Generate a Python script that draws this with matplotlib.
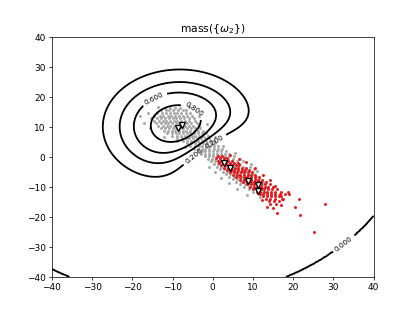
import numpy as np
import matplotlib
matplotlib.use("Agg")
import matplotlib.pyplot as plt

# prototypes (the white triangles) and the class each one supports
proto_x = [-8.7, -7.7, 2.9, 4.2, 8.8, 11.2, 11.2]
proto_y = [9.6, 10.5, -1.9, -3.8, -8.0, -9.5, -11.4]
proto_class = [2, 2, 1, 1, 1, 1, 1]
proto_alpha = [0.75, 0.75, 0.9, 0.9, 0.9, 0.9, 0.9]
proto_gamma = [0.00536, 0.00536, 0.006, 0.006, 0.006, 0.006, 0.006]

levels = [0.0, 0.2, 0.4, 0.6, 0.8]

# gray points, row by row: (y, [x, ...])
gray_rows = [
    (16.3, [-11.8, -10.6, -9.3, -8.2]),
    (15.5, [-12.9, -11.7, -10.9, -9.8, -8.7, -7.5, -6.6]),
    (14.6, [-13.8, -12.6, -11.6, -10.7, -9.6, -8.8, -7.8, -6.7, -5.6]),
    (13.8, [-14.6, -13.2, -12.3, -11.2, -10.3, -9.4, -8.5, -7.4, -6.3, -5.2]),
    (12.9, [-15.3, -13.9, -12.8, -11.9, -10.9, -10.0, -9.1, -8.1, -7.1, -6.0, -4.7]),
    (12.1, [-14.6, -13.3, -12.4, -11.5, -10.6, -9.7, -8.8, -7.8, -6.8, -5.8, -4.3]),
    (11.2, [-17.2, -14.1, -12.9, -11.9, -11.0, -10.1, -9.2, -8.3, -7.3, -6.4, -5.4, -3.9]),
    (10.4, [-13.7, -12.4, -11.4, -10.5, -9.6, -8.7, -7.8, -6.9, -5.9, -4.9, -3.4]),
    (9.6, [-15.6, -12.9, -11.8, -10.9, -10.0, -9.1, -8.2, -7.3, -6.4, -5.4, -4.4, -3.2]),
    (8.7, [-12.2, -11.1, -10.2, -9.3, -8.4, -7.5, -6.6, -5.7, -4.7, -3.7, -2.4]),
    (7.9, [-11.4, -10.2, -9.2, -8.3, -7.4, -6.5, -5.6, -4.6, -3.6, -2.6, -1.6]),
    (7.0, [-10.1, -8.9, -7.9, -7.0, -6.1, -5.2, -4.3, -3.3, -2.3, -1.1]),
    (6.2, [-8.8, -7.6, -6.7, -5.8, -4.9, -4.0, -3.0, -2.0, -0.9]),
    (5.3, [-7.4, -6.3, -5.4, -4.5, -3.6, -2.6, -1.6, -0.6, 0.4]),
    (4.5, [-6.5, -5.3, -4.3, -3.4, -2.5, -1.5, -0.5, 0.6]),
    (3.6, [-5.6, -4.5, -3.5, -2.6, -1.6, -0.7, 0.3, 1.3]),
    (2.8, [-4.6, -3.6, -2.7, -1.8, -0.8, 0.2, 1.2, 2.3]),
    (1.9, [-3.7, -2.7, -1.8, -0.9, 0.1, 1.1, 2.1, 3.2]),
    (1.1, [-2.8, -1.8, -0.9, 0.0, 1.0, 2.0, 3.0, 4.1]),
    (0.2, [-2.0, -1.0, 0.0, 1.0, 2.0, 3.0, 4.1, 5.4]),
    (-0.6, [-1.2, -0.2, 0.8, 1.8, 2.8, 3.9, 5.0]),
    (-1.5, [-0.4, 0.6, 1.6, 2.6, 3.7, 4.8, 6.0, 7.6]),
    (-2.3, [0.3, 1.3, 2.3, 3.4, 4.5, 5.6, 6.8]),
    (-3.2, [1.0, 2.0, 3.1, 4.2, 5.3, 6.4, 7.6, 9.2]),
    (-4.0, [1.7, 2.8, 3.9, 5.0, 6.1, 7.2, 8.4, 10.3]),
    (-4.9, [2.5, 3.6, 4.7, 5.8, 6.9, 8.0, 9.2]),
    (-5.7, [3.3, 4.4, 5.5, 6.6, 7.7, 8.8, 10.0]),
    (-6.6, [4.1, 5.2, 6.3, 7.4, 8.5, 9.6, 10.8]),
    (-7.4, [5.0, 6.1, 7.2, 8.3, 9.4, 10.5, 11.6]),
    (-8.3, [5.9, 7.0, 8.1, 9.2, 10.3, 11.4, 12.5]),
    (-9.1, [6.9, 8.0, 9.1, 10.2, 11.3, 12.4]),
    (-10.0, [7.9, 9.0, 10.1, 11.2, 12.3, 13.5]),
    (-10.8, [9.0, 10.1, 11.2, 12.3]),
    (-11.7, [10.1, 11.2, 12.4]),
    (-12.5, [11.3, 12.6]),
    (-13.4, [11.8]),
]
gray_extra_x = [-18.0, -16.0, -13.5, -6.0, -3.5, -1.5, 0.5, 2.5, 5.5, 6.8, 9.5,
                11.0, -7.0, -9.0, -12.0, -1.0, 0.5, 2.0, 4.0, 6.0, 8.5]
gray_extra_y = [13.5, 14.5, 16.8, 16.6, 13.6, 11.0, 6.5, 3.5, 1.2, -0.8, -2.5,
                -4.8, 3.2, 5.2, 6.5, -3.5, -5.2, -7.0, -8.8, -10.6, -12.8]

# red points, row by row, plus the scattered ones
red_rows = [
    (0.4, [1.3, 2.4]),
    (-0.4, [0.9, 1.8, 2.8, 3.6]),
    (-1.2, [1.2, 2.1, 3.0, 3.9, 4.7]),
    (-2.0, [1.6, 2.5, 3.4, 4.3, 5.2, 6.3]),
    (-2.8, [2.1, 3.0, 3.9, 4.8, 5.7, 6.6]),
    (-3.6, [2.8, 3.7, 4.6, 5.5, 6.4, 7.3, 8.4]),
    (-4.4, [3.6, 4.5, 5.4, 6.3, 7.2, 8.1, 9.0]),
    (-5.2, [4.3, 5.2, 6.1, 7.0, 7.9, 8.8, 9.8]),
    (-6.0, [5.1, 6.0, 6.9, 7.8, 8.7, 9.6, 10.6]),
    (-6.8, [5.9, 6.8, 7.7, 8.6, 9.5, 10.4, 11.5]),
    (-7.6, [6.8, 7.7, 8.6, 9.5, 10.4, 11.3, 12.3]),
    (-8.4, [7.6, 8.5, 9.4, 10.3, 11.2, 12.1, 13.2]),
    (-9.2, [8.5, 9.4, 10.3, 11.2, 12.1, 13.0, 14.3]),
    (-10.0, [9.3, 10.2, 11.1, 12.0, 12.9, 13.8, 15.0]),
    (-10.8, [10.1, 11.0, 11.9, 12.8, 13.7, 14.8, 16.1]),
    (-11.6, [10.9, 11.8, 12.7, 13.6, 14.5, 15.6, 17.0]),
    (-12.4, [11.7, 12.6, 13.5, 14.4, 15.5, 16.7]),
    (-13.2, [12.5, 13.4, 14.4, 15.4, 16.6]),
    (-14.0, [13.2, 14.3, 15.5, 17.2]),
    (-14.8, [14.0, 15.3, 16.4]),
    (-15.6, [14.2, 15.8]),
]
red_extra_x = [18.1, 19.0, 21.4, 20.4, 21.8, 16.0, 28.0, 25.3, 17.5, 15.1, 13.5,
               18.7, 17.0, 12.3, 16.9, 8.2, 10.5, 12.6, 14.2, 15.5, 4.2, 6.5]
red_extra_y = [-12.3, -12.5, -14.0, -16.6, -19.4, -18.8, -15.8, -25.0, -14.2, -17.2, -16.8,
               -11.6, -13.0, -14.5, -16.0, -1.8, -3.6, -6.2, -7.8, -9.8, 0.8, -0.8]


def unroll(rows, ex, ey):
    xs = [x for y, row in rows for x in row] + ex
    ys = [y for y, row in rows for x in row] + ey
    return np.array(xs), np.array(ys)


gray_x, gray_y = unroll(gray_rows, gray_extra_x, gray_extra_y)
red_x, red_y = unroll(red_rows, red_extra_x, red_extra_y)

# mass of {omega_2} from the prototypes, combined with Dempster's rule (float32)
grid = np.linspace(-40, 40, 401)
XX, YY = np.meshgrid(grid, grid)
P = {1: np.ones(XX.shape, dtype=np.float32), 2: np.ones(XX.shape, dtype=np.float32)}
for px, py, cl, a, g in zip(proto_x, proto_y, proto_class, proto_alpha, proto_gamma):
    d2 = ((XX - px) ** 2 + (YY - py) ** 2).astype(np.float32)
    s = np.float32(a) * np.exp(-np.float32(g) * d2)
    P[cl] = P[cl] * (np.float32(1.0) - s)
m1 = np.float32(1.0) - P[1]
m2 = np.float32(1.0) - P[2]
Z = m2 * P[1] / (np.float32(1.0) - m1 * m2)

fig, ax = plt.subplots(figsize=(6.4, 4.8))
ax.scatter(gray_x, gray_y, s=11, marker='o', color='darkgray', linewidths=0)
ax.scatter(red_x, red_y, s=11, marker='o', color='#e41a1c', linewidths=0)
cs = ax.contour(XX, YY, Z, levels=levels, colors='black', linewidths=2)
ax.clabel(cs, fmt='%.3f', fontsize=8, inline=True,
          manual=[(-14.4, 19.3), (-4.8, 15.8), (0.3, 5.4), (-4.4, -0.1), (32.5, -28.7)])
ax.plot(proto_x, proto_y, 'v', mfc='white', mec='black', ms=6, mew=1.5, zorder=5)

ax.set_xlim(-40, 40)
ax.set_ylim(-40, 40)
ax.set_xticks(range(-40, 41, 10))
ax.set_yticks(range(-40, 41, 10))
ax.set_title(r'mass({$\omega_2$})')

fig.savefig('out.png', dpi=64.85)
